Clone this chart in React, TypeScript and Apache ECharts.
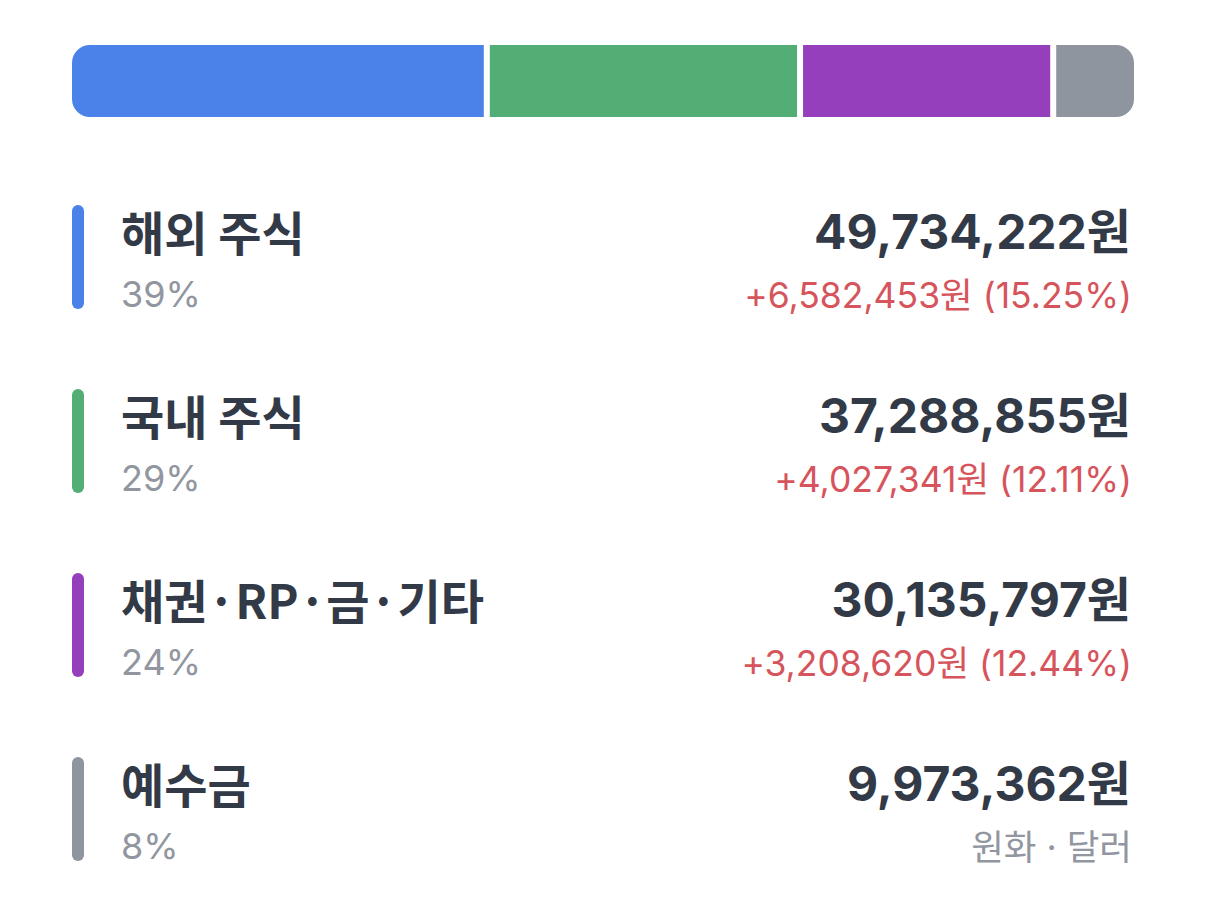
import React, { useEffect, useRef } from "react";
import * as echarts from "echarts";

const categories = ["해외 주식", "국내 주식", "채권·RP·금·기타", "예수금"];
const amounts = [49734222, 37288855, 30135797, 9973362];
const changes = [6582453, 4027341, 3208620, null];
const changeRates = [15.25, 12.11, 12.44, null];
const percents = [39, 29, 24, 8];
const lastNote = "원화 · 달러";
const colors = ["#4a82ea", "#52ae74", "#963fbd", "#8e959f"];

const DARK = "#333a47";
const GRAY = "#9196a0";
const RED = "#d6545c";

const fmt = (n: number) => n.toLocaleString("en-US");

export default function App() {
  const ref = useRef<HTMLDivElement>(null);
  useEffect(() => {
    if (!ref.current) return;
    const chart = echarts.init(ref.current, null, { renderer: "svg" });
    const total = amounts.reduce((a, b) => a + b, 0);
    const series = categories.map((name, i) => ({
      type: "bar",
      name,
      stack: "all",
      barWidth: 78,
      data: [amounts[i]],
      itemStyle: {
        color: colors[i],
        borderColor: "#ffffff",
        borderWidth: 3,
        borderRadius:
          i === 0 ? [19.5, 0, 0, 19.5] : i === categories.length - 1 ? [0, 19.5, 19.5, 0] : 0,
      },
      emphasis: { disabled: true },
    }));

    const graphics: any[] = [];
    const rowTop = 205;
    const step = 184;
    categories.forEach((name, i) => {
      const y0 = rowTop + i * step;
      graphics.push({
        type: "rect",
        shape: { x: 72, y: y0, width: 12, height: 104, r: 6 },
        style: { fill: colors[i] },
      });
      graphics.push({
        type: "text",
        x: 121,
        y: y0 + 25,
        style: {
          text: name,
          fill: DARK,
          font: 'bold 47px "Noto Sans CJK KR", sans-serif',
          textAlign: "left",
          textVerticalAlign: "middle",
        },
      });
      graphics.push({
        type: "text",
        x: 121,
        y: y0 + 89,
        style: {
          text: percents[i] + "%",
          fill: GRAY,
          font: '36px Inter, "Noto Sans CJK KR", sans-serif',
          textAlign: "left",
          textVerticalAlign: "middle",
        },
      });
      graphics.push({
        type: "text",
        x: 1131,
        y: y0 + 26,
        style: {
          text: fmt(amounts[i]) + "원",
          fill: DARK,
          font: 'bold 48px Inter, "Noto Sans CJK KR", sans-serif',
          textAlign: "right",
          textVerticalAlign: "middle",
        },
      });
      const ch = changes[i];
      const sub =
        ch == null
          ? lastNote
          : "+" + fmt(ch) + "원 (" + (changeRates[i] as number).toFixed(2) + "%)";
      graphics.push({
        type: "text",
        x: 1132,
        y: y0 + 90,
        style: {
          text: sub,
          fill: ch == null ? GRAY : RED,
          font: '35.5px Inter, "Noto Sans CJK KR", sans-serif',
          textAlign: "right",
          textVerticalAlign: "middle",
        },
      });
    });

    chart.setOption({
      animation: false,
      backgroundColor: "#ffffff",
      grid: { left: 69, right: 69, top: 42, height: 78 },
      xAxis: { type: "value", min: 0, max: total, show: false },
      yAxis: { type: "category", data: ["자산"], show: false },
      series,
      graphic: graphics,
    });
    return () => chart.dispose();
  }, []);
  return (
    <div
      ref={ref}
      style={{ position: "fixed", left: 0, top: 0, width: 1206, height: 924, background: "#fff" }}
    />
  );
}
